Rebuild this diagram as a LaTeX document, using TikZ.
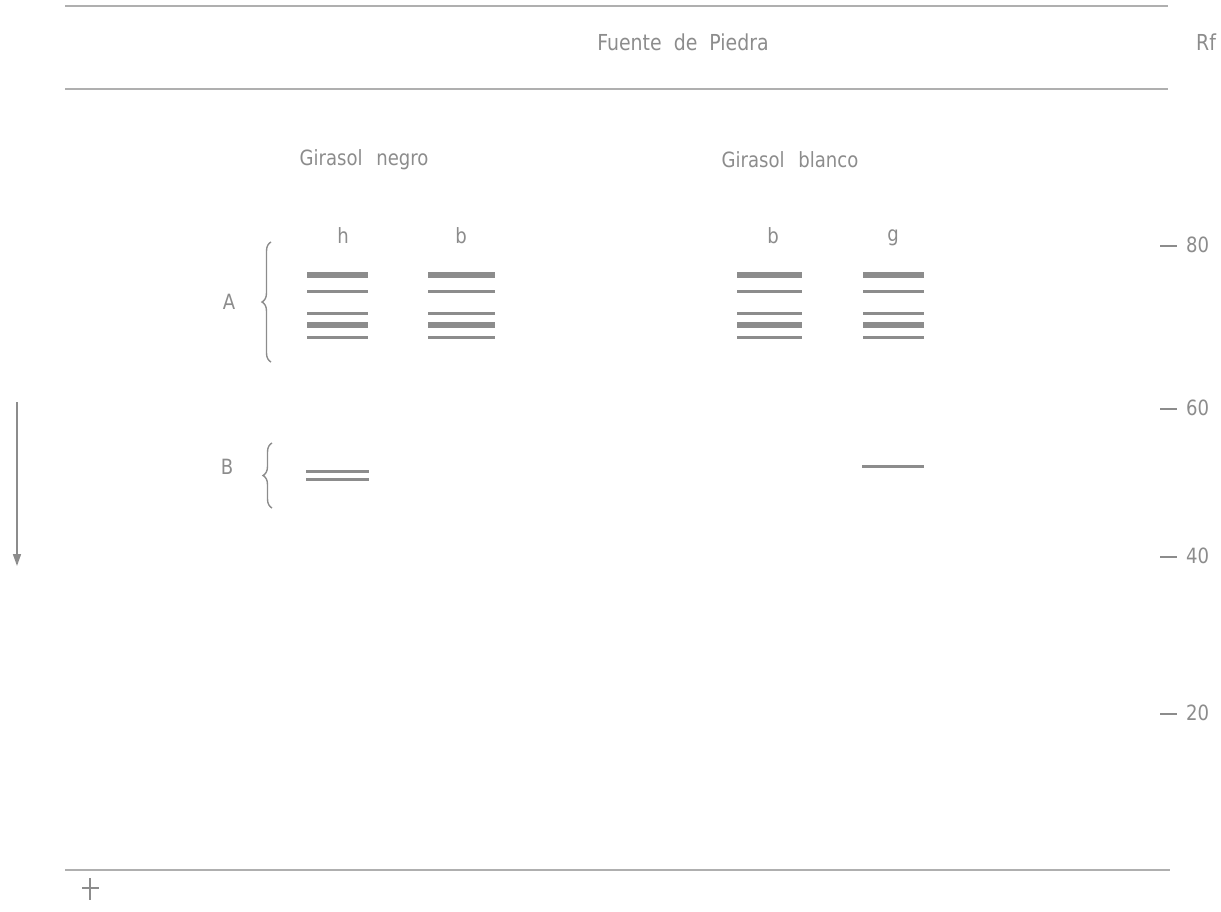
\documentclass[tikz,border=0pt]{standalone}
\usepackage{fontspec}
\setmainfont{DejaVu Sans}
\newfontfamily\narrowfont[FakeStretch=0.86]{DejaVu Sans}
\usetikzlibrary{arrows.meta,decorations.pathreplacing}
\definecolor{ink}{gray}{0.55}
\tikzset{
  rule/.style={draw=ink!70, line width=1.2pt},
  thick band/.style={draw=ink, line width=6pt},
  thin band/.style={draw=ink, line width=3pt},
  lbl/.style={text=ink, font=\narrowfont\fontsize{21}{24}\selectfont, inner sep=0pt},
  title/.style={text=ink, font=\narrowfont\fontsize{22}{26}\selectfont, inner sep=0pt},
  br/.style={draw=ink, line width=1.4pt, decorate, decoration={brace, amplitude=9pt, mirror}},
}
\begin{document}
\begin{tikzpicture}[x=1pt,y=-1pt]
\useasboundingbox (0,0) rectangle (1221,912);
% rules
\draw[rule] (65,6) -- (1168,6);
\draw[rule] (65,89) -- (1168,89);
\draw[rule] (65,870) -- (1170,870);
% titles
\node[title] (t) at (683,42) {Fuente \ de \ Piedra};
\node[title] (rf) at (1206,42) {Rf};
\node[lbl] (gn) at (364,160) {Girasol\hspace{8pt} negro};
\node[lbl] (gb) at (790,160) {Girasol\hspace{8pt} blanco};
\node[lbl] (h) at (343,236) {h};
\node[lbl] (b1) at (461,236) {b};
\node[lbl] (b2) at (773,236) {b};
\node[lbl] (g) at (893,238) {g};
% A group bands
\foreach \xa/\xb in {307/368, 428/495, 737/802, 863/924} {
  \draw[thick band] (\xa,275) -- (\xb,275);
  \draw[thin band] (\xa,291) -- (\xb,291);
  \draw[thin band] (\xa,313) -- (\xb,313);
  \draw[thick band] (\xa,325) -- (\xb,325);
  \draw[thin band] (\xa,337) -- (\xb,337);
}
% B bands
\draw[thin band] (306,471) -- (369,471);
\draw[thin band] (306,479) -- (369,479);
\draw[thin band] (862,466) -- (924,466);
% braces
\coordinate (a1) at (271,242);
\coordinate (a2) at (271,362);
\draw[br] (a1) -- (a2);
\node[lbl] (A) at (229,302) {A};
\coordinate (bb1) at (272,443);
\coordinate (bb2) at (272,508);
\draw[br] (bb1) -- (bb2);
\node[lbl] (B) at (227,467) {B};
% direction arrow
\coordinate (ar1) at (17,402);
\coordinate (ar2) at (17,566);
\draw[draw=ink, line width=1.6pt, -{Triangle[length=12pt,width=8pt]}] (ar1) -- (ar2);
% Rf scale
\foreach \v/\yy in {80/245, 60/408, 40/556, 20/713} {
  \node[lbl, anchor=west] (r\v) at (1186,\yy) {\v};
  \draw[draw=ink, line width=1.8pt] (1160,\yy+1) -- (1177,\yy+1);
}
% plus mark
\coordinate (p) at (90,888);
\draw[draw=ink, line width=1.3pt] (82,888) -- (99,888) (90,878) -- (90,900);
\end{tikzpicture}
\end{document}
